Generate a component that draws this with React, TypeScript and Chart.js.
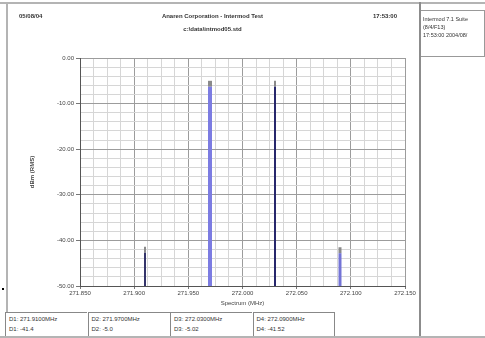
import React, { useEffect, useRef } from "react";
import { Chart, registerables } from "chart.js";

Chart.register(...registerables);

const xTickLabels = ["271.850", "271.900", "271.950", "272.000", "272.050", "272.100", "272.150"];
const yTickLabels = ["0.00", "-10.00", "-20.00", "-30.00", "-40.00", "-50.00"];
const peakFreqs = [271.91, 271.97, 272.03, 272.09];
const peakLevels = [-41.4, -5.0, -5.0, -41.5];
const markerNames = ["D1", "D2", "D3", "D4"];
const markerFreqText = ["271.9100MHz", "271.9700MHz", "272.0300MHz", "272.0900MHz"];
const markerLevelText = ["-41.4", "-5.0", "-5.02", "-41.52"];

const peakColors = ["#34346a", "#7c7ce2", "#27276c", "#7474d6"];
const peakWidths = [2, 4, 2, 3];

const FONT = "'Liberation Sans', Arial, sans-serif";

function ChartPanel() {
  const ref = useRef<HTMLCanvasElement | null>(null);
  useEffect(() => {
    if (!ref.current) return;
    const floor = -50;
    const cap = 1.3;
    const datasets: any[] = [];
    peakFreqs.forEach((f, i) => {
      datasets.push({
        data: [
          { x: f, y: floor },
          { x: f, y: peakLevels[i] - cap },
        ],
        borderColor: peakColors[i],
        borderWidth: peakWidths[i],
        pointRadius: 0,
        borderCapStyle: "butt",
      });
      datasets.push({
        data: [
          { x: f, y: peakLevels[i] - cap },
          { x: f, y: peakLevels[i] },
        ],
        borderColor: "#8a8a8a",
        borderWidth: peakWidths[i],
        pointRadius: 0,
        borderCapStyle: "butt",
      });
    });
    const chart = new Chart(ref.current, {
      type: "line",
      data: { datasets },
      options: {
        animation: false,
        responsive: true,
        maintainAspectRatio: false,
        layout: { padding: { top: 58, right: 15, left: 0, bottom: 0 } },
        plugins: { legend: { display: false }, tooltip: { enabled: false } },
        scales: {
          x: {
            type: "linear",
            min: 271.85,
            max: 272.15,
            afterFit: (s: any) => {
              s.height = 26;
            },
            ticks: {
              stepSize: 0.0125,
              autoSkip: false,
              maxRotation: 0,
              padding: 1,
              color: "#444",
              font: { family: FONT, size: 6 },
              callback: (_v: any, i: number) => (i % 4 === 0 ? xTickLabels[i / 4] : ""),
            },
            grid: {
              color: (c: any) => (c.index % 4 === 0 ? "#9c9c9c" : "#d6d6d6"),
              tickColor: (c: any) => (c.index % 4 === 0 ? "#777" : "rgba(0,0,0,0)"),
              tickLength: 3,
            },
            border: { color: "#555", width: 1 },
            title: {
              display: true,
              text: "Spectrum (MHz)",
              color: "#444",
              font: { family: FONT, size: 6 },
              padding: { top: 0, bottom: 5 },
            },
          },
          y: {
            min: -50,
            max: 0,
            afterFit: (s: any) => {
              s.width = 80;
            },
            ticks: {
              stepSize: 2,
              autoSkip: false,
              padding: 2,
              color: "#444",
              font: { family: FONT, size: 6 },
              callback: (_v: any, i: number) => (i % 5 === 0 ? yTickLabels[5 - i / 5] : ""),
            },
            grid: {
              color: (c: any) => (c.index % 5 === 0 ? "#9c9c9c" : "#d6d6d6"),
              tickColor: (c: any) => (c.index % 5 === 0 ? "#777" : "rgba(0,0,0,0)"),
              tickLength: 4,
            },
            border: { color: "#555", width: 1 },
            title: {
              display: true,
              text: "dBm (RMS)",
              color: "#444",
              font: { family: FONT, size: 6, weight: "bold" },
              padding: { top: 29, bottom: 0 },
            },
          },
        },
      },
    } as any);
    return () => chart.destroy();
  }, []);
  return (
    <div style={{ position: "absolute", left: 0, top: 0, width: 420, height: 312 }}>
      <canvas ref={ref} />
    </div>
  );
}

export default function App() {
  const txt: React.CSSProperties = {
    position: "absolute",
    fontFamily: FONT,
    fontSize: 6,
    color: "#333",
    whiteSpace: "nowrap",
    lineHeight: "7px",
  };
  return (
    <div
      style={{
        position: "absolute",
        left: 0,
        top: 0,
        width: 485,
        height: 338,
        background: "#fff",
        overflow: "hidden",
      }}
    >
      <div style={{ position: "absolute", left: 0, top: 2, width: 485, height: 2, background: "#b4b4b4" }} />
      <div style={{ position: "absolute", left: 6, top: 2, width: 2, height: 310, background: "#b4b4b4" }} />
      <div style={{ position: "absolute", left: 419, top: 2, width: 2, height: 336, background: "#8c8c8c" }} />
      <div style={{ position: "absolute", left: 0, top: 336, width: 485, height: 2, background: "#b4b4b4" }} />
      <ChartPanel />
      <div style={{ ...txt, left: 19, top: 13, fontWeight: "bold" }}>05/08/04</div>
      <div style={{ ...txt, left: 135, top: 13, width: 155, textAlign: "center", fontWeight: "bold" }}>
        Anaren Corporation - Intermod Test
      </div>
      <div style={{ ...txt, left: 373, top: 13, fontWeight: "bold" }}>17:53:00</div>
      <div style={{ ...txt, left: 170, top: 26, width: 85, textAlign: "center", fontWeight: "bold" }}>
        c:\data\intmod05.std
      </div>
      <div
        style={{
          position: "absolute",
          left: 421,
          top: 10,
          width: 63,
          height: 45,
          borderTop: "1px solid #999",
          borderBottom: "1px solid #999",
          borderRight: "1px solid #999",
        }}
      />
      <div style={{ ...txt, left: 423, top: 16, fontSize: 5.5 }}>Intermod 7.1 Suite</div>
      <div style={{ ...txt, left: 423, top: 24, fontSize: 5.5 }}>(8/4/F13)</div>
      <div style={{ ...txt, left: 423, top: 32, fontSize: 5.5 }}>17:53:00 2004/08/</div>
      {markerNames.map((n, i) => (
        <div
          key={n}
          style={{
            position: "absolute",
            left: 5 + i * 82.5,
            top: 312,
            width: 82,
            height: 24,
            borderTop: "1px solid #888",
            borderLeft: "1px solid #888",
            borderRight: i === 3 ? "1px solid #888" : "none",
            boxSizing: "border-box",
          }}
        >
          <div style={{ ...txt, left: 3, top: 3 }}>{`${n}: ${markerFreqText[i]}`}</div>
          <div style={{ ...txt, left: 3, top: 13 }}>{`${n}: ${markerLevelText[i]}`}</div>
        </div>
      ))}
      <div style={{ position: "absolute", left: 2, top: 288, width: 2, height: 2, background: "#000" }} />
    </div>
  );
}
